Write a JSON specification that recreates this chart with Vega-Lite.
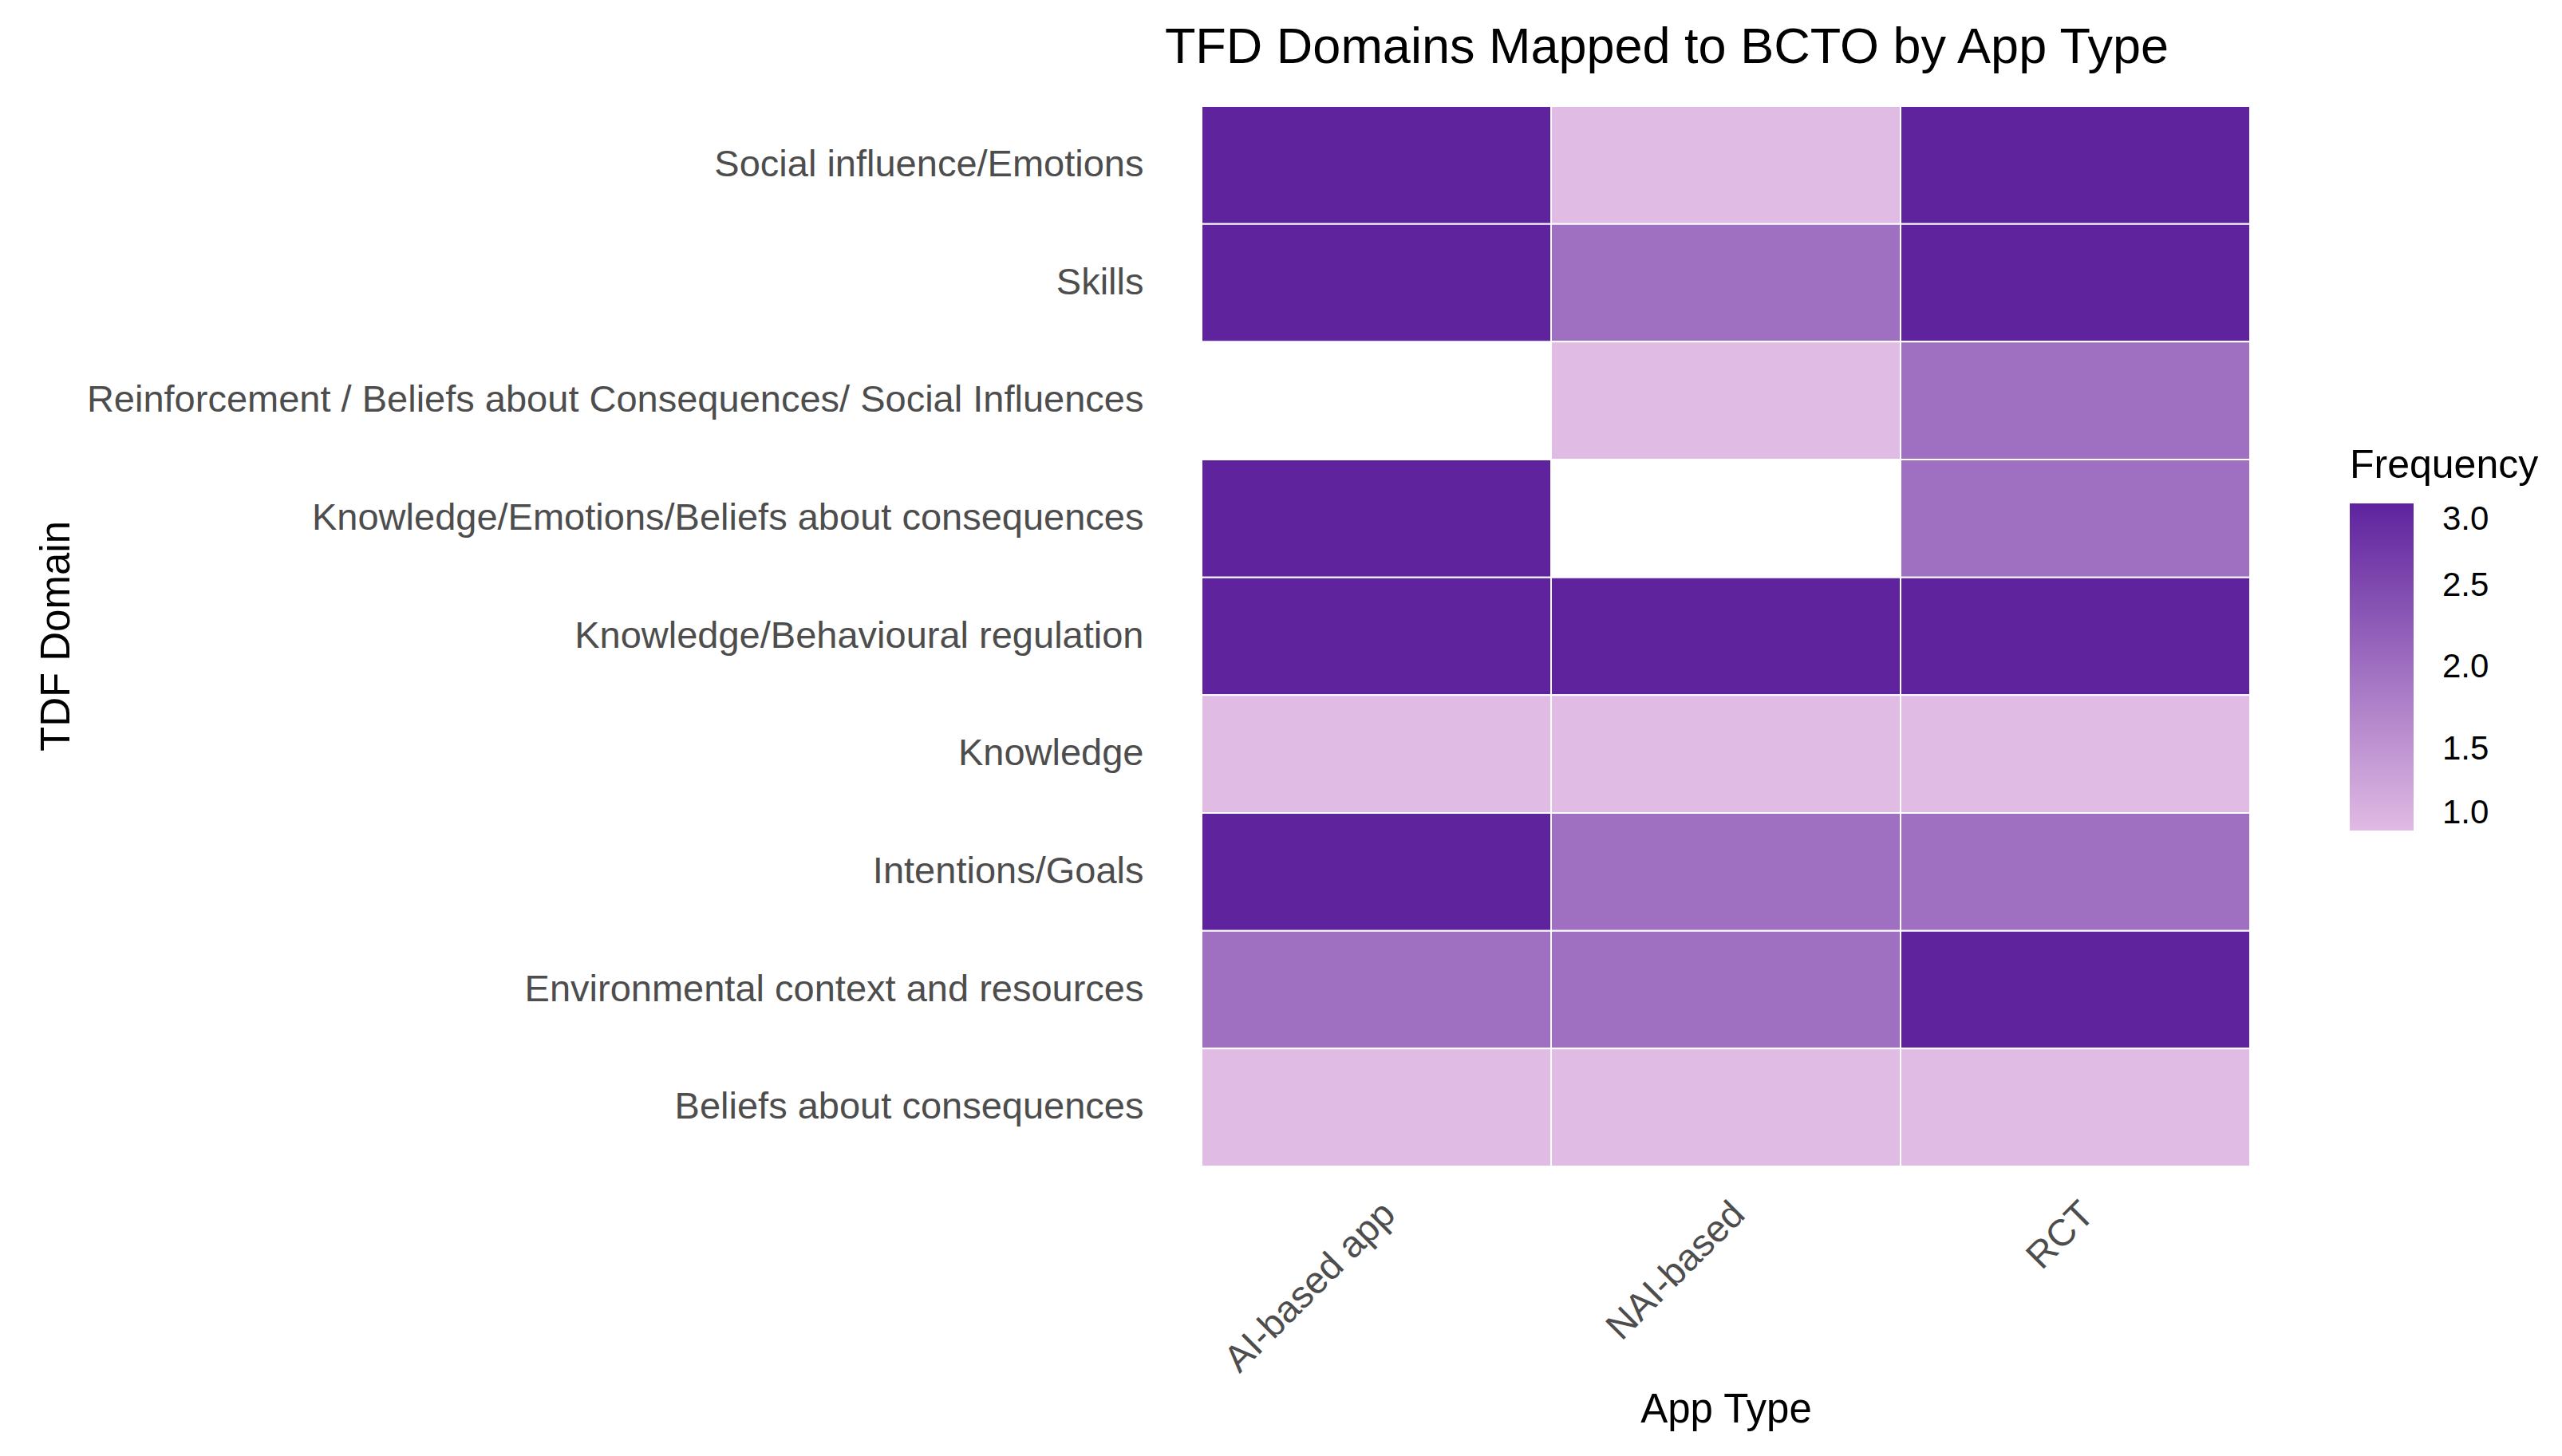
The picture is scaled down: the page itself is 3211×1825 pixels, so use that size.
{
  "$schema": "https://vega.github.io/schema/vega-lite/v6.json",
  "autosize": {"type": "none"},
  "padding": {"left": 1506, "top": 133, "right": 391, "bottom": 363},
  "width": 1314,
  "height": 1329,
  "background": "white",
  "config": {
    "font": "Liberation Sans",
    "view": {"stroke": null}
  },
  "title": {
    "text": "TFD Domains Mapped to BCTO by App Type",
    "fontSize": 63,
    "fontWeight": "normal",
    "color": "#000000",
    "anchor": "middle",
    "dx": -74,
    "offset": 40
  },
  "data": {
    "values": [
      {"domain": "Social influence/Emotions", "app": "AI-based app", "freq": 3},
      {"domain": "Social influence/Emotions", "app": "NAI-based", "freq": 1},
      {"domain": "Social influence/Emotions", "app": "RCT", "freq": 3},
      {"domain": "Skills", "app": "AI-based app", "freq": 3},
      {"domain": "Skills", "app": "NAI-based", "freq": 2},
      {"domain": "Skills", "app": "RCT", "freq": 3},
      {"domain": "Reinforcement / Beliefs about Consequences/ Social Influences", "app": "NAI-based", "freq": 1},
      {"domain": "Reinforcement / Beliefs about Consequences/ Social Influences", "app": "RCT", "freq": 2},
      {"domain": "Knowledge/Emotions/Beliefs about consequences", "app": "AI-based app", "freq": 3},
      {"domain": "Knowledge/Emotions/Beliefs about consequences", "app": "RCT", "freq": 2},
      {"domain": "Knowledge/Behavioural regulation", "app": "AI-based app", "freq": 3},
      {"domain": "Knowledge/Behavioural regulation", "app": "NAI-based", "freq": 3},
      {"domain": "Knowledge/Behavioural regulation", "app": "RCT", "freq": 3},
      {"domain": "Knowledge", "app": "AI-based app", "freq": 1},
      {"domain": "Knowledge", "app": "NAI-based", "freq": 1},
      {"domain": "Knowledge", "app": "RCT", "freq": 1},
      {"domain": "Intentions/Goals", "app": "AI-based app", "freq": 3},
      {"domain": "Intentions/Goals", "app": "NAI-based", "freq": 2},
      {"domain": "Intentions/Goals", "app": "RCT", "freq": 2},
      {"domain": "Environmental context and resources", "app": "AI-based app", "freq": 2},
      {"domain": "Environmental context and resources", "app": "NAI-based", "freq": 2},
      {"domain": "Environmental context and resources", "app": "RCT", "freq": 3},
      {"domain": "Beliefs about consequences", "app": "AI-based app", "freq": 1},
      {"domain": "Beliefs about consequences", "app": "NAI-based", "freq": 1},
      {"domain": "Beliefs about consequences", "app": "RCT", "freq": 1}
    ]
  },
  "mark": {"type": "rect", "stroke": "white", "strokeWidth": 2},
  "encoding": {
    "x": {
      "field": "app",
      "type": "nominal",
      "sort": ["AI-based app", "NAI-based", "RCT"],
      "scale": {"paddingInner": 0, "paddingOuter": 0},
      "axis": {
        "title": "App Type",
        "titleFontSize": 51,
        "titleFontWeight": "normal",
        "titleColor": "#000000",
        "titleY": 320,
        "titleBaseline": "alphabetic",
        "labelAngle": -45,
        "labelAlign": "right",
        "labelBaseline": "top",
        "labelFontSize": 47,
        "labelColor": "#4D4D4D",
        "labelPadding": 36,
        "labelLimit": 2000,
        "ticks": false,
        "domain": false,
        "grid": false
      }
    },
    "y": {
      "field": "domain",
      "type": "nominal",
      "sort": "descending",
      "scale": {"paddingInner": 0, "paddingOuter": 0},
      "axis": {
        "title": "TDF Domain",
        "titleFontSize": 51,
        "titleFontWeight": "normal",
        "titleColor": "#000000",
        "titleX": -1420,
        "titleY": 664,
        "titleAngle": -90,
        "titleAlign": "center",
        "titleBaseline": "alphabetic",
        "labelFontSize": 47,
        "labelColor": "#4D4D4D",
        "labelPadding": 73,
        "labelLimit": 2000,
        "ticks": false,
        "domain": false,
        "grid": false
      }
    },
    "color": {
      "field": "freq",
      "type": "quantitative",
      "title": "Frequency",
      "scale": {"domain": [1, 3], "range": ["#E0BBE4", "#5E239D"], "interpolate": "rgb"},
      "legend": {
        "orient": "none",
        "legendX": 1439,
        "legendY": 426,
        "direction": "vertical",
        "gradientLength": 410,
        "gradientThickness": 80,
        "gradientStrokeWidth": 0,
        "values": [1, 1.5, 2, 2.5, 3],
        "format": ".1f",
        "titleFontSize": 50,
        "titleFontWeight": "normal",
        "titleColor": "#000000",
        "titlePadding": 22,
        "titleLimit": 1000,
        "labelFontSize": 42,
        "labelColor": "#000000",
        "labelBaseline": "middle",
        "labelOffset": 36
      }
    }
  }
}
